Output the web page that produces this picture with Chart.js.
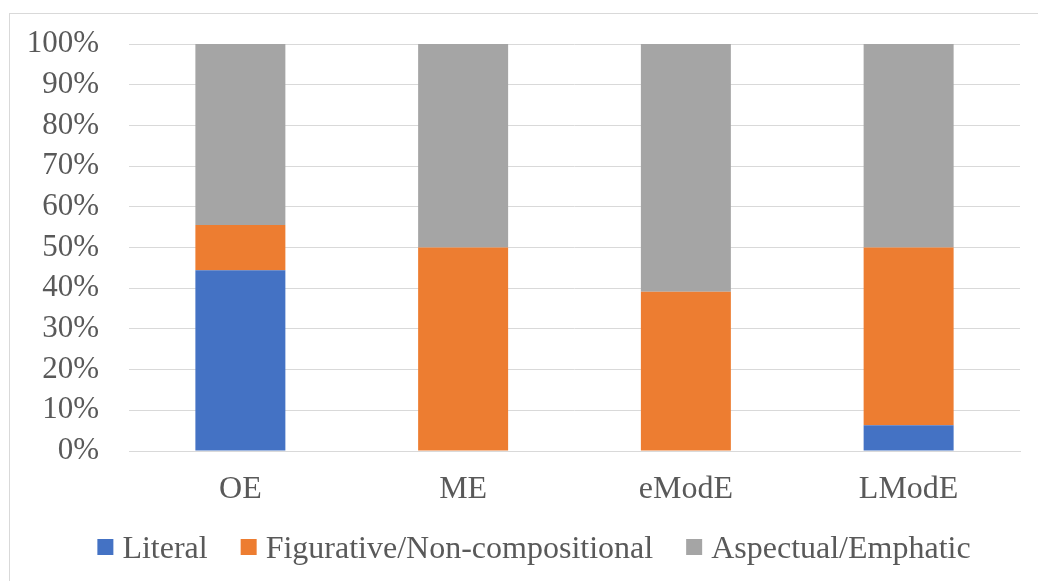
<!DOCTYPE html>
<html>
<head>
<meta charset="utf-8">
<script src="https://cdn.jsdelivr.net/npm/chart.js@4"></script>
<style>
  html, body { margin: 0; padding: 0; background: #ffffff; }
  #wrap { width: 1038px; height: 581px; position: relative; }
</style>
</head>
<body>
<div id="wrap"><canvas id="c" width="1038" height="581"></canvas></div>
<script>
// Periods and share of each usage type (percent of occurrences)
const categories = ['OE', 'ME', 'eModE', 'LModE'];
const literal    = [44.4, 0, 0, 6.3];
const figurative = [11.1, 50, 39.1, 43.7];
const aspectual  = [44.5, 50, 60.9, 50];
const yTicks     = [0, 10, 20, 30, 40, 50, 60, 70, 80, 90, 100];

const textColor = '#595959';
const gridColor = '#d9d9d9';
const fontFamily = '"Liberation Serif", "Times New Roman", serif';

// Outer frame of the chart box
const framePlugin = {
  id: 'frame',
  beforeDraw(chart) {
    const ctx = chart.ctx;
    ctx.save();
    ctx.fillStyle = '#ffffff';
    ctx.fillRect(0, 0, chart.width, chart.height);
    ctx.strokeStyle = gridColor;
    ctx.lineWidth = 1;
    ctx.strokeRect(9.5, 13.5, chart.width + 20, chart.height + 20);
    ctx.restore();
  }
};

// Single-row legend below the axis: square swatch, then the series name
const legendRowPlugin = {
  id: 'legendRow',
  afterDraw(chart, args, opts) {
    const ctx = chart.ctx;
    const box = opts.boxSize, gap = opts.textGap, spacing = opts.itemSpacing;
    ctx.save();
    ctx.font = opts.fontSize + 'px ' + fontFamily;
    const items = chart.data.datasets.map(ds => ({
      label: ds.label,
      color: ds.backgroundColor,
      width: box + gap + ctx.measureText(ds.label).width
    }));
    const total = items.reduce((s, it) => s + it.width, 0) + spacing * (items.length - 1);
    let x = opts.centerX - total / 2;
    const baseline = opts.baseline;
    ctx.textBaseline = 'alphabetic';
    ctx.textAlign = 'left';
    items.forEach(it => {
      ctx.fillStyle = it.color;
      ctx.fillRect(x, baseline - 19, box, box);
      ctx.fillStyle = textColor;
      ctx.fillText(it.label, x + box + gap, baseline);
      x += it.width + spacing;
    });
    ctx.restore();
  }
};

new Chart(document.getElementById('c'), {
  type: 'bar',
  data: {
    labels: categories,
    datasets: [
      { label: 'Literal', data: literal, backgroundColor: '#4472c4' },
      { label: 'Figurative/Non-compositional', data: figurative, backgroundColor: '#ed7d31' },
      { label: 'Aspectual/Emphatic', data: aspectual, backgroundColor: '#a5a5a5' }
    ]
  },
  options: {
    responsive: false,
    animation: false,
    devicePixelRatio: 1,
    layout: { padding: { top: 44, right: 18, bottom: 56, left: 0 } },
    datasets: { bar: { categoryPercentage: 1, barPercentage: 0.404, borderWidth: 0 } },
    scales: {
      x: {
        stacked: true,
        grid: { display: false, drawTicks: false },
        border: { display: true, color: gridColor, width: 1 },
        ticks: { color: textColor, font: { family: fontFamily, size: 32 }, padding: 19 },
        afterFit(scale) { scale.height = 74; }
      },
      y: {
        stacked: true,
        min: 0,
        max: 100,
        afterBuildTicks(scale) { scale.ticks = yTicks.map(v => ({ value: v })); },
        grid: { color: gridColor, lineWidth: 1, drawTicks: false },
        border: { display: false },
        ticks: {
          color: textColor,
          font: { family: fontFamily, size: 31 },
          padding: 30,
          autoSkip: false,
          callback: v => v + '%'
        },
        afterFit(scale) {
          scale.width = 129;
          scale.paddingTop = 0;
          scale.paddingBottom = 0;
        }
      }
    },
    plugins: {
      legend: { display: false },
      legendRow: { boxSize: 16, textGap: 9, itemSpacing: 33, fontSize: 32, centerX: 534, baseline: 558 },
      tooltip: { enabled: false }
    }
  },
  plugins: [framePlugin, legendRowPlugin]
});
</script>
</body>
</html>
